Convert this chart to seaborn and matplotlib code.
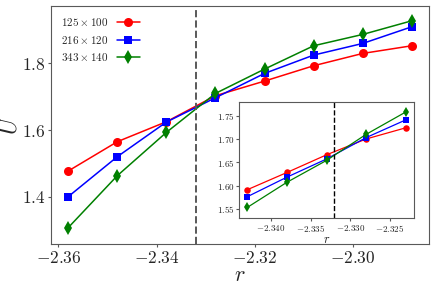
import numpy as np
import pandas as pd
import matplotlib
matplotlib.use("Agg")
import matplotlib.pyplot as plt
import seaborn as sns

# main panel data
r_main = [-2.358, -2.348, -2.338, -2.328, -2.318, -2.308, -2.298, -2.288]
u_125 = [1.477, 1.565, 1.625, 1.703, 1.747, 1.793, 1.830, 1.853]
u_216 = [1.400, 1.520, 1.624, 1.697, 1.770, 1.825, 1.860, 1.910]
u_343 = [1.307, 1.463, 1.593, 1.710, 1.783, 1.853, 1.887, 1.928]

# inset data (zoom around crossing)
r_ins = [-2.343, -2.338, -2.333, -2.328, -2.323]
ui_125 = [1.591, 1.628, 1.666, 1.700, 1.724]
ui_216 = [1.576, 1.618, 1.657, 1.703, 1.741]
ui_343 = [1.553, 1.607, 1.654, 1.710, 1.758]

labels = [r"$125\times100$", r"$216\times120$", r"$343\times140$"]
r_cross = -2.332

sns.set_style("ticks")
plt.rcParams.update({
    "font.family": "serif",
    "font.serif": ["cmr10"],
    "mathtext.fontset": "cm",
    "axes.formatter.use_mathtext": True,
    "axes.edgecolor": "0.35",
    "xtick.color": "0.35",
    "ytick.color": "0.35",
    "xtick.labelcolor": "0.15",
    "ytick.labelcolor": "0.15",
    "xtick.major.size": 2.5,
    "ytick.major.size": 2.5,
})

fig = plt.figure(figsize=(4.36, 2.91), dpi=100)
ax = fig.add_axes([0.117, 0.1615, 0.867, 0.8175])

styles = [("r", "o", 6.5), ("b", "s", 6.0), ("g", "d", 7.5)]
for ys, lab, (c, m, ms) in zip([u_125, u_216, u_343], labels, styles):
    sns.lineplot(x=r_main, y=ys, ax=ax, color=c, marker=m, markersize=ms,
                 markeredgewidth=0, linewidth=1.1, label=lab)

ax.axvline(r_cross, color="0.35", linestyle="--", linewidth=1.4)
ax.set_ylim(1.258, 1.972)
ax.set_xticks([-2.36, -2.34, -2.32, -2.30])
ax.set_yticks([1.4, 1.6, 1.8])
ax.tick_params(labelsize=12.5, pad=1.5)
ax.set_xlabel(r"$r$", fontsize=16, labelpad=0)
ax.set_ylabel(r"$U$", fontsize=17)
ax.yaxis.set_label_coords(-0.078, 0.5)
ax.legend(loc="upper left", frameon=False, markerfirst=False, fontsize=8)

# inset
axi = fig.add_axes([0.549, 0.252, 0.40, 0.3985])
for ys, (c, m, ms) in zip([ui_125, ui_216, ui_343], styles):
    sns.lineplot(x=r_ins, y=ys, ax=axi, color=c, marker=m, markersize=ms * 0.72,
                 markeredgewidth=0, linewidth=0.9)
axi.axvline(r_cross, color="k", linestyle="--", linewidth=1.0)
axi.set_ylim(1.531, 1.780)
axi.set_xticks([-2.340, -2.335, -2.330, -2.325])
axi.set_yticks([1.55, 1.60, 1.65, 1.70, 1.75])
axi.set_xticklabels(["$-2.340$", "$-2.335$", "$-2.330$", "$-2.325$"])
axi.set_yticklabels(["$1.55$", "$1.60$", "$1.65$", "$1.70$", "$1.75$"])
axi.tick_params(labelsize=6.5, length=2, pad=1.5)
axi.set_xlabel(r"$r$", fontsize=9, labelpad=0)

fig.savefig("out.png", dpi=100)
